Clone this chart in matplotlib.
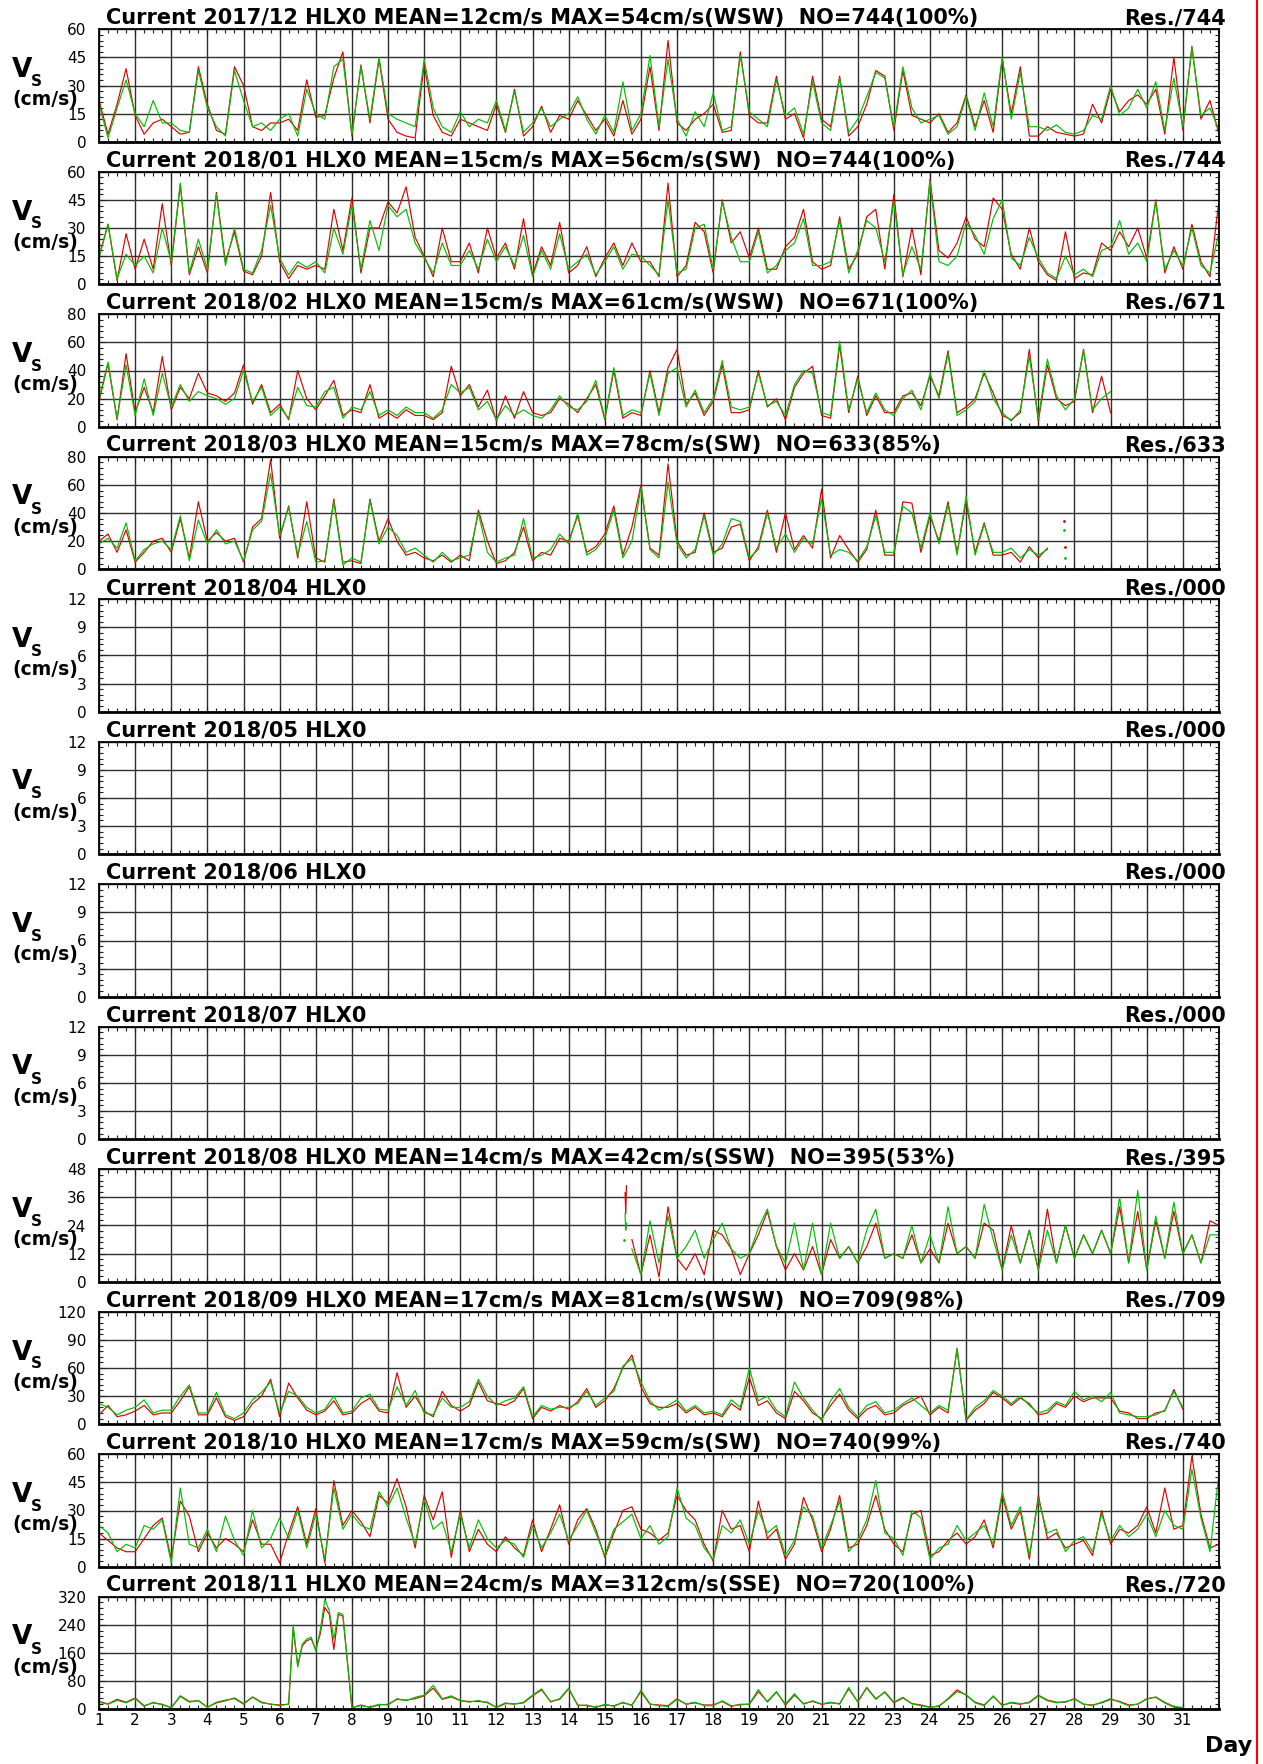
import numpy as np
import matplotlib
matplotlib.use('Agg')
from matplotlib import pyplot as plt
from matplotlib.lines import Line2D
from matplotlib.ticker import MultipleLocator

W, H = 1263, 1764

# panel titles / axis ranges
months = ['2017/12', '2018/01', '2018/02', '2018/03', '2018/04', '2018/05',
          '2018/06', '2018/07', '2018/08', '2018/09', '2018/10', '2018/11']
stats = ['MEAN=12cm/s MAX=54cm/s(WSW)  NO=744(100%)',
         'MEAN=15cm/s MAX=56cm/s(SW)  NO=744(100%)',
         'MEAN=15cm/s MAX=61cm/s(WSW)  NO=671(100%)',
         'MEAN=15cm/s MAX=78cm/s(SW)  NO=633(85%)',
         '', '', '', '',
         'MEAN=14cm/s MAX=42cm/s(SSW)  NO=395(53%)',
         'MEAN=17cm/s MAX=81cm/s(WSW)  NO=709(98%)',
         'MEAN=17cm/s MAX=59cm/s(SW)  NO=740(99%)',
         'MEAN=24cm/s MAX=312cm/s(SSE)  NO=720(100%)']
res_no = ['744', '744', '671', '633', '000', '000', '000', '000',
          '395', '709', '740', '720']
y_top = [60, 60, 80, 80, 12, 12, 12, 12, 48, 120, 60, 320]
day_labels = [str(d) for d in range(1, 32)]

# speed (cm/s), 6-hourly readings, 4 per day starting day 1 00h
dec_red = [22, 4, 20, 39, 14, 4, 10, 12, 8, 4, 5, 40, 20, 6, 4, 40,
           30, 8, 6, 10, 10, 12, 6, 33, 13, 14, 34, 48, 3, 41, 10, 44,
           12, 5, 3, 2, 41, 14, 5, 3, 12, 10, 8, 6, 20, 5, 28, 3,
           8, 19, 5, 14, 12, 22, 14, 6, 12, 3, 22, 4, 12, 40, 6, 54,
           10, 6, 12, 15, 20, 5, 6, 48, 14, 10, 10, 35, 12, 15, 2, 35,
           12, 8, 35, 3, 8, 20, 38, 35, 6, 38, 14, 12, 10, 15, 5, 10,
           25, 8, 22, 5, 44, 15, 40, 3, 3, 8, 5, 4, 3, 4, 20, 10,
           28, 16, 22, 25, 20, 28, 4, 45, 6, 51, 12, 22, 4]
dec_green = [20, 2, 18, 33, 15, 8, 22, 10, 10, 6, 5, 38, 18, 8, 3, 38,
             22, 8, 10, 6, 12, 15, 3, 28, 15, 12, 40, 44, 4, 40, 12, 45,
             15, 12, 10, 8, 44, 18, 8, 5, 16, 8, 12, 10, 22, 6, 27, 5,
             10, 18, 8, 12, 15, 24, 12, 4, 14, 5, 32, 6, 15, 46, 8, 44,
             12, 3, 16, 8, 26, 6, 8, 46, 16, 12, 8, 33, 14, 18, 4, 32,
             10, 6, 34, 5, 12, 24, 37, 34, 8, 40, 18, 10, 12, 14, 4, 8,
             24, 6, 26, 8, 45, 12, 37, 8, 8, 6, 9, 5, 4, 6, 14, 12,
             30, 14, 18, 28, 18, 32, 6, 34, 8, 50, 14, 18, 6]

jan_red = [15, 32, 2, 27, 8, 24, 8, 43, 10, 53, 5, 20, 6, 49, 12, 28,
           7, 5, 15, 49, 12, 3, 10, 8, 10, 8, 40, 18, 46, 6, 30, 30,
           44, 38, 52, 25, 15, 4, 30, 12, 12, 22, 6, 30, 14, 22, 8, 35,
           5, 20, 10, 33, 6, 10, 20, 4, 14, 22, 10, 22, 12, 12, 4, 54,
           4, 10, 33, 28, 6, 45, 22, 28, 14, 30, 8, 8, 20, 25, 40, 12,
           8, 10, 36, 8, 16, 36, 40, 8, 48, 4, 30, 5, 56, 18, 14, 22,
           36, 24, 20, 46, 40, 16, 8, 30, 12, 5, 2, 28, 3, 6, 5, 22,
           18, 28, 20, 30, 14, 45, 6, 20, 8, 32, 12, 4, 45]
jan_green = [14, 32, 3, 16, 10, 15, 6, 30, 12, 54, 6, 24, 8, 48, 10, 30,
             8, 6, 18, 42, 14, 5, 12, 9, 12, 6, 30, 16, 42, 8, 34, 18,
             42, 36, 40, 22, 14, 6, 22, 10, 10, 18, 8, 24, 12, 20, 10, 26,
             4, 18, 8, 27, 8, 12, 16, 5, 12, 20, 8, 16, 15, 10, 5, 45,
             6, 8, 30, 32, 8, 44, 25, 12, 12, 28, 6, 10, 18, 22, 35, 10,
             10, 12, 34, 6, 18, 34, 30, 12, 44, 5, 20, 8, 55, 12, 10, 15,
             33, 26, 16, 35, 45, 14, 10, 25, 14, 6, 3, 15, 5, 8, 4, 18,
             20, 34, 16, 22, 12, 44, 8, 18, 10, 30, 10, 6, 28]

feb_red = [18, 45, 5, 52, 10, 28, 10, 50, 12, 28, 20, 38, 24, 22, 18, 24,
           44, 16, 30, 10, 16, 5, 40, 20, 12, 22, 33, 8, 12, 10, 30, 6,
           10, 6, 12, 8, 8, 5, 10, 43, 22, 30, 14, 26, 4, 22, 6, 25,
           10, 8, 10, 20, 16, 10, 20, 30, 5, 40, 6, 10, 8, 40, 10, 42,
           55, 16, 24, 8, 18, 44, 10, 10, 12, 40, 14, 20, 5, 28, 38, 43,
           8, 6, 58, 10, 36, 8, 22, 10, 10, 22, 24, 15, 36, 22, 54, 10,
           14, 20, 38, 24, 8, 5, 10, 55, 4, 44, 20, 15, 18, 55, 10, 36, 10]
feb_green = [20, 46, 6, 44, 8, 34, 8, 38, 14, 30, 18, 25, 22, 20, 16, 20,
             40, 18, 28, 8, 14, 6, 28, 15, 14, 25, 28, 6, 14, 12, 25, 8,
             12, 8, 14, 10, 10, 6, 12, 30, 24, 28, 12, 18, 5, 15, 8, 12,
             8, 6, 12, 22, 14, 12, 18, 33, 6, 42, 8, 12, 10, 38, 8, 38,
             42, 14, 26, 10, 20, 47, 14, 12, 14, 38, 15, 18, 8, 30, 40, 38,
             10, 8, 61, 12, 34, 10, 24, 12, 8, 20, 26, 12, 38, 20, 52, 8,
             12, 18, 40, 20, 10, 4, 12, 50, 6, 48, 22, 12, 20, 54, 12, 20, 25]

mar_red = [20, 25, 12, 28, 5, 12, 20, 22, 12, 36, 8, 48, 20, 26, 20, 22,
           5, 30, 36, 78, 22, 45, 8, 48, 8, 5, 50, 5, 6, 4, 50, 20,
           36, 20, 10, 12, 8, 6, 10, 5, 10, 6, 42, 20, 4, 6, 12, 30,
           6, 12, 10, 22, 20, 38, 12, 16, 25, 45, 10, 30, 60, 15, 10, 75,
           20, 10, 12, 40, 12, 15, 30, 32, 6, 16, 42, 12, 40, 14, 24, 15,
           57, 8, 24, 14, 5, 14, 42, 10, 10, 48, 47, 12, 38, 20, 48, 12,
           48, 12, 33, 10, 10, 12, 5, 16, 8, 15]
mar_green = [18, 22, 15, 33, 6, 14, 18, 20, 14, 38, 6, 35, 18, 28, 18, 20,
             6, 28, 34, 68, 24, 44, 10, 34, 5, 6, 48, 3, 8, 5, 49, 18,
             30, 24, 12, 15, 10, 5, 12, 6, 8, 10, 40, 12, 5, 8, 10, 36,
             8, 10, 14, 25, 18, 40, 10, 14, 22, 42, 8, 20, 58, 14, 8, 62,
             18, 8, 14, 38, 10, 18, 36, 34, 8, 14, 40, 15, 25, 12, 22, 18,
             50, 10, 14, 12, 6, 16, 38, 12, 12, 45, 40, 15, 40, 18, 46, 10,
             52, 10, 32, 12, 12, 15, 8, 14, 10, 14]
# stray readings after the March record stops
mar_dot_days = [27.7, 27.75]
mar_dot_red = [34, 16]
mar_dot_green = [28, 8]

# August record starts mid-month
aug_pre_days = [15.56, 15.58, 15.60]
aug_pre_red = [38, 29, 41]
aug_pre_green = [29, 22, 25]
aug_dot_day = [15.53]
aug_dot_val = [18]
aug_start = 15.75
aug_red = [18,
           3, 20, 2, 32, 10, 5, 12, 3, 22, 20, 14, 3, 12, 20, 30, 15,
           5, 12, 5, 15, 3, 18, 10, 15, 8, 15, 25, 10, 12, 10, 20, 8,
           14, 8, 25, 12, 15, 10, 25, 22, 5, 24, 8, 22, 5, 31, 8, 24,
           10, 20, 12, 22, 12, 32, 8, 30, 5, 26, 10, 30, 12, 20, 8, 26,
           24]
aug_green = [14,
             3, 26, 8, 28, 10, 15, 22, 10, 18, 25, 14, 10, 12, 23, 31, 15,
             8, 25, 5, 25, 3, 25, 10, 15, 8, 22, 31, 10, 12, 10, 24, 8,
             20, 8, 32, 12, 15, 10, 33, 18, 5, 20, 8, 22, 5, 22, 8, 24,
             10, 20, 12, 22, 12, 36, 8, 39, 5, 28, 10, 34, 12, 20, 8, 20,
             20]

sep_red = [10, 20, 8, 10, 14, 20, 10, 12, 12, 25, 40, 10, 10, 28, 8, 4,
           8, 22, 30, 48, 8, 44, 28, 15, 10, 14, 25, 10, 12, 22, 28, 14,
           12, 55, 18, 30, 14, 8, 35, 20, 14, 20, 45, 25, 22, 20, 25, 38,
           6, 18, 14, 20, 16, 24, 38, 18, 25, 38, 60, 74, 40, 22, 18, 18,
           22, 12, 18, 10, 12, 8, 22, 15, 50, 20, 25, 12, 6, 35, 25, 12,
           6, 20, 32, 15, 6, 16, 20, 10, 12, 20, 25, 30, 10, 18, 12, 81,
           4, 15, 22, 34, 28, 20, 28, 22, 10, 12, 22, 18, 30, 24, 28, 28,
           28, 14, 12, 6, 6, 12, 14, 37, 16]
sep_green = [22, 18, 10, 15, 18, 26, 12, 15, 15, 30, 42, 12, 12, 34, 10, 6,
             12, 26, 34, 45, 12, 35, 30, 18, 12, 16, 30, 12, 14, 28, 32, 16,
             15, 40, 20, 36, 12, 10, 28, 18, 18, 24, 48, 30, 20, 25, 28, 40,
             8, 20, 16, 18, 18, 22, 35, 20, 28, 35, 62, 70, 45, 25, 15, 20,
             26, 14, 20, 12, 14, 10, 26, 18, 60, 25, 30, 15, 8, 45, 28, 15,
             4, 25, 38, 18, 8, 20, 24, 12, 15, 22, 28, 20, 12, 20, 15, 80,
             5, 18, 25, 36, 30, 22, 30, 20, 12, 15, 24, 20, 35, 26, 30, 24,
             34, 12, 10, 8, 8, 10, 15, 35, 18]

oct_red = [18, 14, 10, 8, 8, 15, 22, 26, 4, 35, 27, 8, 18, 10, 15, 12,
           8, 25, 12, 12, 2, 18, 32, 12, 31, 2, 46, 22, 30, 24, 16, 38,
           34, 47, 32, 10, 38, 25, 40, 5, 30, 8, 20, 12, 8, 16, 10, 6,
           25, 8, 20, 33, 12, 25, 31, 20, 5, 18, 30, 32, 20, 18, 14, 18,
           38, 30, 25, 12, 3, 30, 20, 22, 8, 35, 15, 20, 4, 12, 37, 25,
           8, 20, 38, 10, 12, 22, 38, 20, 12, 8, 28, 30, 6, 8, 14, 18,
           12, 16, 25, 10, 38, 20, 30, 4, 38, 15, 18, 10, 12, 14, 6, 30,
           12, 20, 18, 22, 32, 18, 42, 20, 22, 59, 28, 10, 12]
oct_green = [22, 18, 8, 12, 10, 22, 20, 25, 2, 42, 12, 10, 20, 8, 27, 14,
             6, 30, 10, 15, 26, 15, 30, 10, 28, 4, 42, 20, 28, 22, 20, 40,
             32, 42, 26, 12, 36, 20, 24, 8, 28, 10, 25, 15, 10, 14, 12, 5,
             22, 10, 18, 28, 14, 22, 30, 18, 6, 20, 24, 28, 15, 22, 12, 16,
             42, 26, 22, 10, 4, 22, 18, 25, 12, 30, 18, 22, 6, 14, 32, 27,
             10, 22, 35, 8, 14, 25, 46, 18, 15, 6, 30, 26, 4, 10, 12, 22,
             14, 18, 22, 12, 40, 22, 32, 6, 36, 18, 20, 8, 14, 16, 8, 28,
             14, 22, 16, 20, 28, 16, 30, 22, 20, 52, 26, 8, 50]

# November: 6-hourly, with 3-hourly readings through the day 6-7 surge
nov_red_a = [22, 15, 28, 20, 32, 10, 18, 14, 4, 38, 22, 24, 6, 18, 24, 32,
             16, 35, 20, 14, 12, 14]
nov_green_a = [20, 14, 25, 18, 30, 8, 20, 12, 5, 36, 20, 25, 5, 20, 26, 30,
               14, 34, 18, 15, 10, 15]
nov_red_surge = [230, 125, 180, 195, 200, 170, 215, 290, 270, 170, 270, 265]
nov_green_surge = [240, 120, 185, 200, 205, 165, 225, 312, 280, 200, 275, 270]
nov_red_b = [4, 12, 5, 12, 14, 28, 26, 30, 38, 60, 28, 35, 24, 22, 22, 20,
             5, 16, 15, 18, 38, 55, 22, 28, 58, 12, 10, 6, 12, 10, 18, 12,
             50, 14, 12, 10, 30, 14, 18, 12, 12, 22, 8, 14, 14, 50, 22, 50,
             12, 40, 16, 22, 14, 18, 16, 58, 22, 62, 30, 48, 18, 32, 16, 12,
             6, 8, 30, 55, 40, 20, 12, 36, 12, 18, 14, 20, 40, 26, 20, 20,
             30, 14, 12, 18, 28, 22, 12, 14, 30, 34, 18, 6, 4]
nov_green_b = [5, 10, 6, 14, 12, 30, 24, 34, 40, 68, 30, 38, 25, 20, 25, 18,
               6, 18, 14, 20, 40, 58, 20, 30, 60, 10, 12, 5, 14, 8, 20, 10,
               54, 15, 10, 8, 28, 15, 20, 10, 10, 24, 10, 12, 15, 56, 20, 48,
               15, 44, 14, 24, 15, 20, 14, 62, 20, 60, 28, 50, 20, 34, 15, 10,
               5, 10, 28, 50, 42, 18, 10, 38, 10, 20, 16, 18, 38, 24, 18, 22,
               28, 15, 10, 20, 30, 20, 10, 15, 28, 35, 20, 8, 5]


def six_hourly(n, start=1.0):
    return start + 0.25 * np.arange(n)


nov_days = np.concatenate([six_hourly(len(nov_red_a)),
                           6.375 + 0.125 * np.arange(len(nov_red_surge)),
                           six_hourly(len(nov_red_b), 8.0)])

series = {
    0: [(six_hourly(len(dec_red)), dec_red, dec_green)],
    1: [(six_hourly(len(jan_red)), jan_red, jan_green)],
    2: [(six_hourly(len(feb_red)), feb_red, feb_green)],
    3: [(six_hourly(len(mar_red)), mar_red, mar_green)],
    8: [(aug_pre_days, aug_pre_red, aug_pre_green),
        (six_hourly(len(aug_red), aug_start), aug_red, aug_green)],
    9: [(six_hourly(len(sep_red)), sep_red, sep_green)],
    10: [(six_hourly(len(oct_red)), oct_red, oct_green)],
    11: [(nov_days, nov_red_a + nov_red_surge + nov_red_b,
          nov_green_a + nov_green_surge + nov_green_b)],
}

RED = '#e00000'
GREEN = '#00c000'

fig = plt.figure(figsize=(W / 100, H / 100), dpi=100)

for i in range(12):
    top = 29.3 + 142.5 * i
    ax = fig.add_axes([99 / W, 1 - (top + 112.4) / H, 1120 / W, 112.4 / H])

    for t, r, g in series.get(i, []):
        ax.plot(t, r, color=RED, lw=0.85)
        ax.plot(t, g, color=GREEN, lw=0.85)
    if i == 3:
        ax.plot(mar_dot_days, mar_dot_red, '.', color=RED, ms=2)
        ax.plot(mar_dot_days, mar_dot_green, '.', color=GREEN, ms=2)
    if i == 8:
        ax.plot(aug_dot_day, aug_dot_val, '.', color=GREEN, ms=2)

    ax.set_xlim(1, 32)
    ax.set_ylim(0, y_top[i])
    ax.set_xticks(range(1, 33))
    ax.xaxis.set_minor_locator(MultipleLocator(0.25))
    ax.yaxis.set_major_locator(MultipleLocator(y_top[i] / 4))
    ax.yaxis.set_minor_locator(MultipleLocator(y_top[i] / 20))
    ax.grid(True, which='major', color='#303030', lw=1.0)
    ax.tick_params(which='both', direction='in', top=True, right=True,
                   color='#202020')
    ax.tick_params(which='major', length=4, width=0.8)
    ax.tick_params(which='minor', length=3, width=0.8)
    ax.tick_params(axis='y', labelsize=11, pad=9)
    if i == 11:
        ax.set_xticklabels(day_labels + [''])
        ax.tick_params(axis='x', labelsize=11, pad=3)
    else:
        ax.set_xticklabels([])
    for s in ax.spines.values():
        s.set_linewidth(1.3)
    ax.spines['bottom'].set_linewidth(2.0)

    title = 'Current ' + months[i] + ' HLX0'
    if stats[i]:
        title += ' ' + stats[i]
    fig.text(106 / W, 1 - (top - 5.3) / H, title, fontsize=15,
             fontweight='bold', va='baseline')
    fig.text(1226 / W, 1 - (top - 5.3) / H, 'Res./' + res_no[i], fontsize=15,
             fontweight='bold', va='baseline', ha='right')

    # y label: V with subscript S, unit below
    fig.text(12 / W, 1 - (top + 47.7) / H, 'V', fontsize=19,
             fontweight='bold', va='baseline')
    fig.text(31 / W, 1 - (top + 56.7) / H, 'S', fontsize=11,
             fontweight='bold', va='baseline')
    fig.text(12 / W, 1 - (top + 76) / H, '(cm/s)', fontsize=13.5,
             fontweight='bold', va='baseline')

fig.text(1252 / W, 1 - 1752 / H, 'Day', fontsize=16, fontweight='bold',
         ha='right', va='baseline')

# page border line on the right
fig.add_artist(Line2D([1257 / W, 1257 / W], [0, 1], color='red', lw=1.5))

# caption, mostly cut off by the page bottom
fig.text(271 / W, 1 - 1781 / H,
         '圖 3.3-12    2017年12月至2018年11月 HLX0 測站各月海流流速時序圖',
         fontsize=13, family=['Noto Sans CJK TC', 'DejaVu Sans'],
         color='#222222', va='baseline')

fig.savefig('out.png', dpi=100)
